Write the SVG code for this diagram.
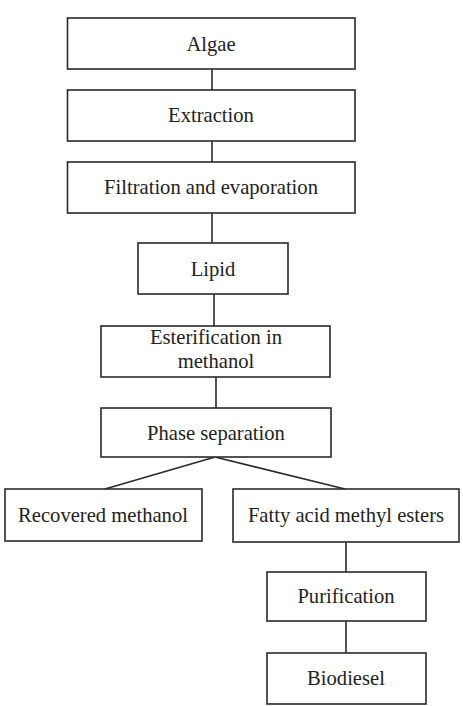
<svg xmlns="http://www.w3.org/2000/svg" width="463" height="706" viewBox="0 0 463 706">
<style>
.box{fill:#fff;stroke:#2a2a2a;stroke-width:1.6}
.lbl{font-family:"Liberation Serif","Times New Roman",serif;font-size:20.6px;fill:#222;text-anchor:middle}
.con{stroke:#2a2a2a;stroke-width:1.6;fill:none}
</style>
<rect width="463" height="706" fill="#fff"/>
<g id="connectors">
<line class="con" x1="212" y1="69" x2="212" y2="90"/>
<line class="con" x1="212" y1="141" x2="212" y2="162"/>
<line class="con" x1="212" y1="213" x2="212" y2="243"/>
<line class="con" x1="214" y1="294" x2="214" y2="326"/>
<line class="con" x1="216" y1="377" x2="216" y2="408"/>
<line class="con" x1="215" y1="457" x2="105" y2="489"/>
<line class="con" x1="215" y1="457" x2="345" y2="489"/>
<line class="con" x1="346" y1="542" x2="346" y2="572"/>
<line class="con" x1="346" y1="621" x2="346" y2="653"/>
</g>
<g id="algae"><rect class="box" x="67.5" y="18" width="287.5" height="51"/><text class="lbl" x="211" y="51">Algae</text></g>
<g id="extraction"><rect class="box" x="67.5" y="90" width="287.5" height="51"/><text class="lbl" x="211" y="122">Extraction</text></g>
<g id="filtration"><rect class="box" x="67.5" y="162" width="287.5" height="51"/><text class="lbl" x="211" y="194">Filtration and evaporation</text></g>
<g id="lipid"><rect class="box" x="138" y="243" width="150" height="51"/><text class="lbl" x="213" y="276">Lipid</text></g>
<g id="esterification"><rect class="box" x="101" y="326" width="229" height="51"/><text class="lbl" x="216" y="344">Esterification in</text><text class="lbl" x="216" y="368">methanol</text></g>
<g id="phase"><rect class="box" x="101" y="408" width="230" height="49"/><text class="lbl" x="216" y="440">Phase separation</text></g>
<g id="recovered"><rect class="box" x="5" y="489" width="197" height="52"/><text class="lbl" x="103" y="522">Recovered methanol</text></g>
<g id="fatty"><rect class="box" x="233" y="489" width="226" height="53"/><text class="lbl" x="346" y="522">Fatty acid methyl esters</text></g>
<g id="purification"><rect class="box" x="267" y="572" width="159" height="49"/><text class="lbl" x="346" y="603">Purification</text></g>
<g id="biodiesel"><rect class="box" x="267" y="653" width="159" height="51"/><text class="lbl" x="346" y="685">Biodiesel</text></g>
</svg>
